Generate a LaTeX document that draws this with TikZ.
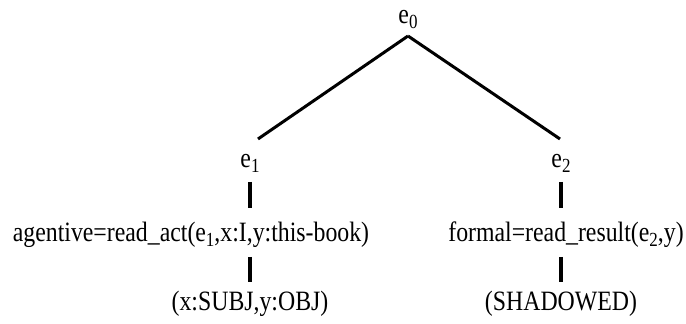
\documentclass[tikz,border=0pt]{standalone}
\usepackage{fontspec}
\setmainfont[FakeStretch=0.85]{Liberation Serif}
\usetikzlibrary{positioning}
\newcommand{\evidx}[1]{\raisebox{-0.35ex}{\fontsize{10pt}{12pt}\selectfont #1}}

\begin{document}
\begin{tikzpicture}[
    x=0.5pt, y=-0.5pt,
    lbl/.style={inner sep=0pt, anchor=base,
                font=\fontsize{14pt}{17pt}\selectfont},
    branch/.style={line width=1.5pt},
    stem/.style={line width=2.1pt},
  ]
  \useasboundingbox (0,0) rectangle (686,324);

  % event structure
  \node[lbl] (e0) at (408,24) {e\evidx{0}};
  \node[lbl] (e1) at (250,168) {e\evidx{1}};
  \node[lbl] (e2) at (561,168) {e\evidx{2}};

  % qualia and argument structure
  \node[lbl] (act1) at (191,242) {agentive=read\_act(e\evidx{1},x:I,y:this-book)};
  \node[lbl] (res2) at (566,242) {formal=read\_result(e\evidx{2},y)};
  \node[lbl] (subj) at (250,311) {(x:SUBJ,y:OBJ)};
  \node[lbl] (shad) at (561,311) {(SHADOWED)};

  \draw[branch] ([yshift=-6pt]e0.base) -- ([xshift=4pt, yshift=14.5pt]e1.base);
  \draw[branch] ([yshift=-6pt]e0.base) -- ([xshift=-0.5pt, yshift=14.5pt]e2.base);

  \draw[stem, shorten <=7pt, shorten >=17pt] (e1.base) -- (e1.base |- act1.base);
  \draw[stem, shorten <=7pt, shorten >=17pt] (e2.base) -- (e2.base |- res2.base);
  \draw[stem, shorten <=7.5pt, shorten >=14.5pt] (subj |- act1.base) -- (subj.base);
  \draw[stem, shorten <=7.5pt, shorten >=14.5pt] (shad |- res2.base) -- (shad.base);
\end{tikzpicture}
\end{document}
